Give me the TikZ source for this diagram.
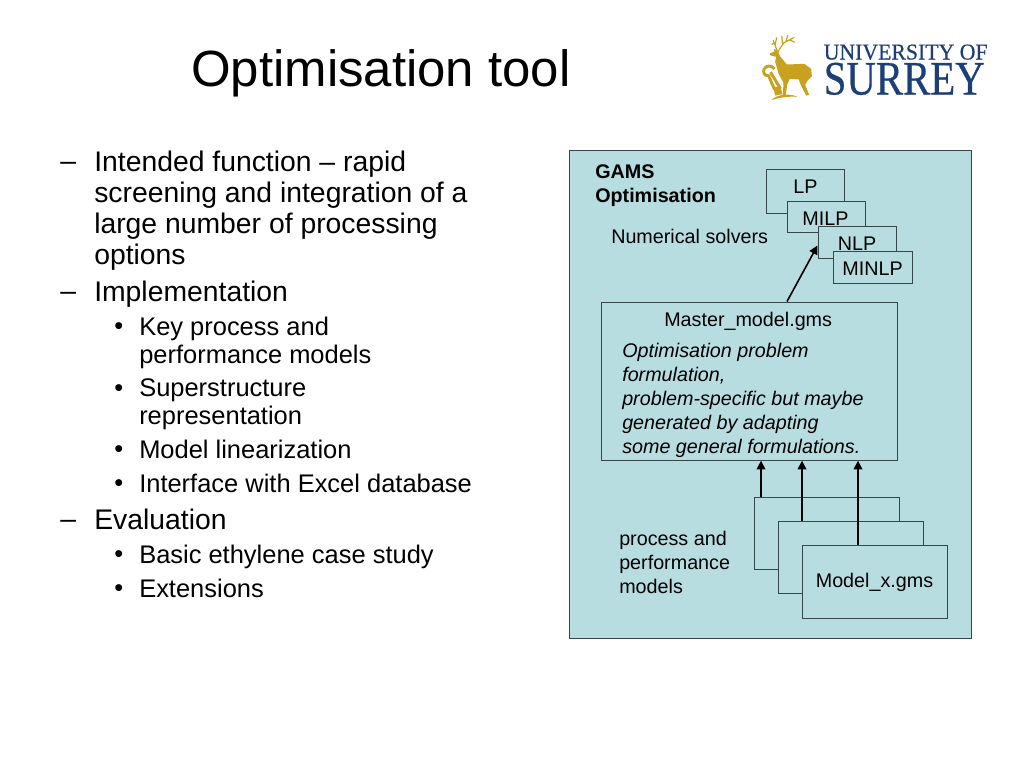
\documentclass[tikz,border=0pt]{standalone}
\usepackage{fontspec}
\setmainfont{Liberation Sans}
\newfontfamily\logofont[FakeBold=0.5]{Liberation Serif}
\usepackage{xcolor}
\usetikzlibrary{arrows.meta}
\definecolor{panelblue}{HTML}{B8DDE1}
\definecolor{boxline}{HTML}{34474B}
\definecolor{surreyblue}{HTML}{1C3F78}
\definecolor{surreygold}{HTML}{C8A21E}
\newcommand{\capsize}{\vphantom{I}}
\tikzset{
  listone/.style={anchor=north west,inner sep=0pt,align=left,font=\fontsize{21.25}{23.25}\selectfont},
  listtwo/.style={anchor=north west,inner sep=0pt,align=left,font=\fontsize{19.1}{21}\selectfont},
  solverbox/.style={draw=boxline,fill=panelblue,line width=0.9pt,anchor=north west,inner sep=0pt,font=\fontsize{14.8}{16}\selectfont},
  solvertext/.style={inner sep=0pt,font=\fontsize{14.8}{16}\selectfont},
  modelbox/.style={solverbox,minimum width=108.75pt,minimum height=54pt},
  paneltext/.style={anchor=north west,inner sep=0pt,align=left,font=\fontsize{14.8}{18}\selectfont},
  tip/.style={-{Triangle[length=6.5pt,width=6.5pt]},line width=1.2pt,black},
  antler/.style={draw=surreygold,line width=0.9pt,line cap=round}
}
\begin{document}
\begin{tikzpicture}[x=0.75pt,y=-0.75pt]
  \useasboundingbox (0.5,0.5) rectangle (1024.5,768.5);
  \fill[white] (0,0) rectangle (1025,769);
  \node[anchor=base west,inner sep=0pt,font=\fontsize{38.2}{44}\selectfont] (title) at (191.5,87) {Optimisation tool};

  % left column
  \node[listone] (dasha) at (60.5,151) {\capsize--};
  \node[listone] (intended) at (94.5,151) {Intended function -- rapid\\screening and integration of a\\large number of processing\\options};
  \node[listone] (dashb) at (60.5,281) {\capsize--};
  \node[listone] (implementation) at (94.5,281) {Implementation};
  \node[listtwo] (bulleta) at (114.5,317) {\capsize•};
  \node[listtwo] (key) at (139.5,317) {Key process and\\performance models};
  \node[listtwo] (bulletb) at (114.5,379) {\capsize•};
  \node[listtwo] (super) at (139.5,379) {Superstructure\\representation};
  \node[listtwo] (bulletc) at (114.5,440) {\capsize•};
  \node[listtwo] (linear) at (139.5,440) {Model linearization};
  \node[listtwo] (bulletd) at (114.5,474) {\capsize•};
  \node[listtwo] (excel) at (139.5,474) {Interface with Excel database};
  \node[listone] (dashc) at (60.5,509) {\capsize--};
  \node[listone] (evaluation) at (94.5,509) {Evaluation};
  \node[listtwo] (bullete) at (114.5,545) {\capsize•};
  \node[listtwo] (basic) at (139.5,545) {Basic ethylene case study};
  \node[listtwo] (bulletf) at (114.5,579) {\capsize•};
  \node[listtwo] (extensions) at (139.5,579) {Extensions};

  % panel
  \node[draw=boxline,fill=panelblue,line width=0.9pt,anchor=north west,minimum width=302pt,minimum height=366pt,inner sep=0pt] (panel) at (569,150) {};
  \node[paneltext,font=\bfseries\fontsize{14.8}{17.75}\selectfont] (gams) at (595.5,165) {GAMS\\Optimisation};
  \node[paneltext] (numerical) at (611.5,229) {Numerical solvers};

  % solvers
  \node[solverbox,minimum width=58.5pt,minimum height=33pt] (lp) at (766,169) {};
  \node[solvertext] (lptext) at (806,187) {LP};
  \node[solverbox,minimum width=58.5pt,minimum height=23.25pt] (milp) at (787,201) {};
  \node[solvertext] (milptext) at (826,219) {MILP};
  \node[solverbox,minimum width=58.5pt,minimum height=24pt] (nlp) at (818,226) {};
  \node[solvertext] (nlptext) at (857.5,244) {NLP};
  \node[solverbox,minimum width=59.25pt,minimum height=24pt] (minlp) at (833,251) {};
  \node[solvertext] (minlptext) at (873,269) {MINLP};

  % master model
  \node[solverbox,minimum width=222pt,minimum height=118.5pt] (master) at (601,302) {};
  \node[paneltext] (mastername) at (664.5,312) {Master\_model.gms};
  \node[paneltext,font=\itshape\fontsize{14.8}{18}\selectfont] (formulation) at (622.5,343) {Optimisation problem\\formulation,\\problem-specific but maybe\\generated by adapting\\some general formulations.};

  % models
  \node[modelbox] (modela) at (754,497) {};
  \node[modelbox] (modelb) at (778,521) {};
  \node[modelbox,minimum height=54.75pt] (modelc) at (802,545) {};
  \node[solvertext] (modeltext) at (875,583) {Model\_x.gms};
  \node[paneltext] (performance) at (619.5,531) {process and\\performance\\models};

  \coordinate (ma) at (761.5,497);
  \coordinate (mb) at (802.5,521);
  \coordinate (mc) at (858.5,545);
  \draw[tip] (ma) -- (ma |- master.south);
  \draw[tip] (mb) -- (mb |- master.south);
  \draw[tip] (mc) -- (mc |- master.south);
  \coordinate (mout) at (787.5,302);
  \coordinate (nin) at (818,246);
  \draw[tip] (mout) -- (nin);

  % logo
  \begin{scope}[shift={(755,30)},x=0.25pt,y=-0.25pt]
    \fill[surreygold] (45,72) -- (60,66) -- (58,58) -- (68,63) -- (76,60) -- (72,70) -- (78,82) -- (97,105) -- (150,103) -- (170,118) -- (172,140)
      -- (160,152) -- (152,166) -- (164,196) -- (155,198) -- (138,165) -- (133,150) -- (106,148) -- (98,165) -- (94,196) -- (85,196) -- (87,160)
      -- (72,132) -- (62,97) -- (65,82) -- (48,78) -- cycle;
    \draw[antler] (67,62) -- (56,32) (62,47) -- (66,25) (59,40) -- (52,45);
    \draw[antler] (74,60) -- (88,40) -- (118,24) (84,45) -- (82,20) (94,36) -- (100,18) (105,31) -- (120,38);
    \draw[surreygold,line width=2.2pt,line join=round] (30,116) .. controls (40,106) and (50,108) .. (60,118) (30,116) .. controls (24,128) and (28,140) .. (42,138)
      -- (60,180) (48,128) -- (78,178);
    \fill[surreygold] (56,172) -- (78,172) -- (84,194) -- (62,198) -- cycle;
    \fill[surreygold] (50,212) .. controls (70,192) and (110,192) .. (128,202) .. controls (100,200) and (75,204) .. (50,212) -- cycle;
  \end{scope}
  \node[inner sep=0pt,anchor=base west,text=surreyblue,font=\logofont\fontsize{17}{17}\selectfont,xscale=0.96,transform shape] (university) at (824,60) {UNIVERSITY OF};
  \node[inner sep=0pt,anchor=base west,text=surreyblue,font=\logofont\fontsize{36}{36}\selectfont,xscale=0.85,transform shape] (surrey) at (824,95) {SURREY};
\end{tikzpicture}
\end{document}
